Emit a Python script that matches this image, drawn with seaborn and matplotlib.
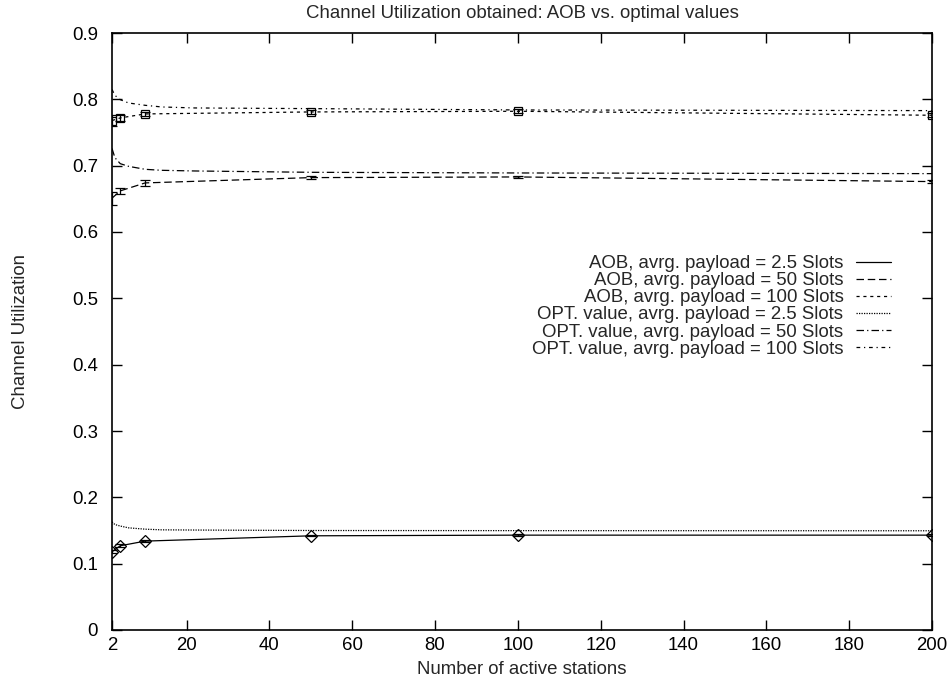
import numpy as np
import pandas as pd
import matplotlib
matplotlib.use("Agg")
import matplotlib.pyplot as plt
import seaborn as sns
from matplotlib.lines import Line2D

# ---- data ----
stations = [2, 4, 10, 50, 100, 200]
aob_25 = [0.118, 0.127, 0.134, 0.142, 0.143, 0.143]
aob_25_err = [0.002, 0.002, 0.001, 0.001, 0.001, 0.001]
aob_50 = [0.651, 0.662, 0.674, 0.682, 0.683, 0.676]
aob_50_err = [0.010, 0.005, 0.004, 0.002, 0.002, 0.002]
aob_100 = [0.768, 0.772, 0.778, 0.781, 0.782, 0.776]
aob_100_err = [0.008, 0.004, 0.003, 0.003, 0.003, 0.003]

opt_x = [2, 2.7, 4, 6, 10, 14, 22, 50, 100, 200]
opt_25 = [0.163, 0.159, 0.1567, 0.154, 0.152, 0.151, 0.1507, 0.150, 0.1498, 0.1496]
opt_50 = [0.726, 0.712, 0.703, 0.699, 0.6945, 0.693, 0.692, 0.690, 0.689, 0.688]
opt_100 = [0.815, 0.806, 0.7995, 0.7945, 0.791, 0.7885, 0.787, 0.786, 0.784, 0.783]

labels = [
    "AOB, avrg. payload = 2.5 Slots",
    "AOB, avrg. payload = 50 Slots",
    "AOB, avrg. payload = 100 Slots",
    "OPT. value, avrg. payload = 2.5 Slots",
    "OPT. value, avrg. payload = 50 Slots",
    "OPT. value, avrg. payload = 100 Slots",
]
x_ticks = [2, 20, 40, 60, 80, 100, 120, 140, 160, 180, 200]
y_ticks = [0, 0.1, 0.2, 0.3, 0.4, 0.5, 0.6, 0.7, 0.8, 0.9]
y_ticklabels = ["0", "0.1", "0.2", "0.3", "0.4", "0.5", "0.6", "0.7", "0.8", "0.9"]

# ---- style ----
sns.set_style("ticks")
plt.rcParams["font.family"] = ["Liberation Sans", "DejaVu Sans"]
FS = 13.4

fig = plt.figure(figsize=(9.48, 6.82), dpi=100)
ax = fig.add_axes([112 / 948, 1 - 630 / 682, 820 / 948, 597 / 682])

lw = 0.9
styles = [
    "-",
    (0, (6, 3)),
    (0, (2.5, 3)),
    (0, (1, 1)),
    (0, (6, 2.5, 1, 2.5)),
    (0, (3, 3, 1, 3)),
]

aob_series = [(aob_25, aob_25_err, "D"), (aob_50, aob_50_err, None), (aob_100, aob_100_err, "s")]
for i, (vals, errs, mk) in enumerate(aob_series):
    df = pd.DataFrame({"x": stations, "y": vals})
    sns.lineplot(data=df, x="x", y="y", ax=ax, color="black", linewidth=lw,
                 linestyle=styles[i], marker=mk, markersize=6,
                 markerfacecolor="none", markeredgecolor="black", markeredgewidth=0.9,
                 legend=False, estimator=None)
    ax.errorbar(stations, vals, yerr=errs, fmt="none", ecolor="black",
                elinewidth=0.9, capsize=3.5, capthick=0.9)

for j, vals in enumerate([opt_25, opt_50, opt_100]):
    df = pd.DataFrame({"x": opt_x, "y": vals})
    sns.lineplot(data=df, x="x", y="y", ax=ax, color="black", linewidth=lw,
                 linestyle=styles[3 + j], legend=False, estimator=None)

ax.set_xlim(2, 200)
ax.set_ylim(0, 0.9)
ax.set_xticks(x_ticks)
ax.set_yticks(y_ticks)
ax.set_yticklabels(y_ticklabels)
ax.tick_params(direction="in", top=True, right=True, length=7, width=1,
               labelsize=FS, colors="black")
ax.tick_params(axis="x", pad=5)
ax.tick_params(axis="y", pad=10)
for s in ax.spines.values():
    s.set_visible(True)
    s.set_linewidth(1.2)
    s.set_color("black")

ax.set_xlabel("Number of active stations", fontsize=FS, labelpad=5)
ax.set_ylabel("Channel Utilization", fontsize=FS, labelpad=31)
ax.set_title("Channel Utilization obtained: AOB vs. optimal values", fontsize=FS, pad=11)

handles = [Line2D([], [], color="black", linewidth=lw, linestyle=st) for st in styles]
leg = ax.legend(handles, labels, loc="upper right", bbox_to_anchor=(0.959, 0.64),
                frameon=False, markerfirst=False, fontsize=FS, handlelength=1.9,
                handletextpad=0.65, labelspacing=0.0, borderaxespad=0)

fig.savefig("out.png", dpi=100)
